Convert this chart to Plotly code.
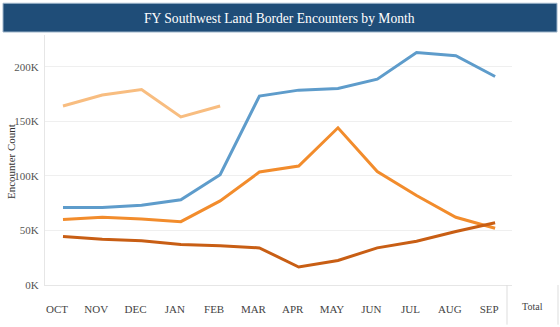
import plotly.graph_objects as go

# Monthly encounter counts by fiscal year (values in encounters)
months = ["OCT", "NOV", "DEC", "JAN", "FEB", "MAR", "APR", "MAY", "JUN", "JUL", "AUG", "SEP"]
fy_a = [164000, 174000, 179000, 154000, 164000]
fy_b = [71000, 71000, 73000, 78000, 101000, 173000, 178500, 180000, 188500, 213000, 210000, 191000]
fy_c = [60000, 62000, 60500, 58000, 77000, 103500, 109000, 144000, 104000, 82000, 62000, 52000]
fy_d = [44500, 42000, 40500, 37000, 36000, 34000, 16500, 22500, 34000, 40000, 49000, 57000]

series = [
    (fy_a, "#f8bd80"),
    (fy_b, "#5e9ccb"),
    (fy_c, "#f28c2c"),
    (fy_d, "#c85e14"),
]

W, H = 560, 327
L, R, T, B = 45, 512, 35, 287  # plot box in pixels


def px(x):
    return (x - L) / (R - L)


def py(y):
    return (B - y) / (B - T)


fig = go.Figure()
for vals, color in series:
    fig.add_trace(go.Scatter(
        x=months[:len(vals)], y=vals, mode="lines",
        line=dict(color=color, width=3), hoverinfo="skip", showlegend=False,
    ))

serif = "Liberation Serif, Times New Roman, serif"

fig.update_layout(
    width=W, height=H,
    margin=dict(l=L, r=W - R, t=T, b=H - B, pad=0),
    paper_bgcolor="white", plot_bgcolor="white",
    font=dict(family=serif, size=11, color="#555555"),
    xaxis=dict(
        type="category", categoryorder="array", categoryarray=months,
        range=[-0.458, 11.43], showgrid=False, zeroline=False,
        showline=True, linecolor="#e6e6e6", linewidth=1,
        ticks="", ticklabelshift=-6, ticklabelstandoff=14,
        tickfont=dict(family=serif, size=11, color="#444444"),
    ),
    yaxis=dict(
        range=[0, 229000], tickvals=[0, 50000, 100000, 150000, 200000],
        ticktext=["0K", "50K", "100K", "150K", "200K"],
        showgrid=True, gridcolor="#efefef", gridwidth=1, zeroline=False,
        showline=True, linecolor="#e6e6e6", linewidth=1,
        ticks="", ticklabelstandoff=3,
        tickfont=dict(family=serif, size=11, color="#555555"),
    ),
    shapes=[
        # title banner
        dict(type="rect", xref="paper", yref="paper",
             x0=px(3), x1=px(557), y0=py(32), y1=py(3),
             fillcolor="#1f4d78", line=dict(color="#9fb6cc", width=1), layer="above"),
        # header separators beside the Total column
        dict(type="line", xref="paper", yref="paper",
             x0=px(507), x1=px(507), y0=py(287), y1=py(327),
             line=dict(color="#dddddd", width=1)),
        dict(type="line", xref="paper", yref="paper",
             x0=px(558), x1=px(558), y0=py(287), y1=py(327),
             line=dict(color="#dddddd", width=1)),
    ],
    annotations=[
        dict(text="FY Southwest Land Border Encounters by Month",
             xref="paper", yref="paper", x=px(279), y=py(18),
             xanchor="center", yanchor="middle", showarrow=False,
             font=dict(family=serif, size=13.6, color="white")),
        dict(text="Encounter Count", textangle=-90,
             xref="paper", yref="paper", x=px(11), y=py(163),
             xanchor="center", yanchor="middle", showarrow=False,
             font=dict(family=serif, size=11, color="#333333")),
        dict(text="Total", xref="paper", yref="paper", x=px(532), y=py(309),
             xanchor="center", yanchor="middle", showarrow=False,
             font=dict(family=serif, size=10, color="#444444")),
    ],
)

fig.write_html("out.html")
